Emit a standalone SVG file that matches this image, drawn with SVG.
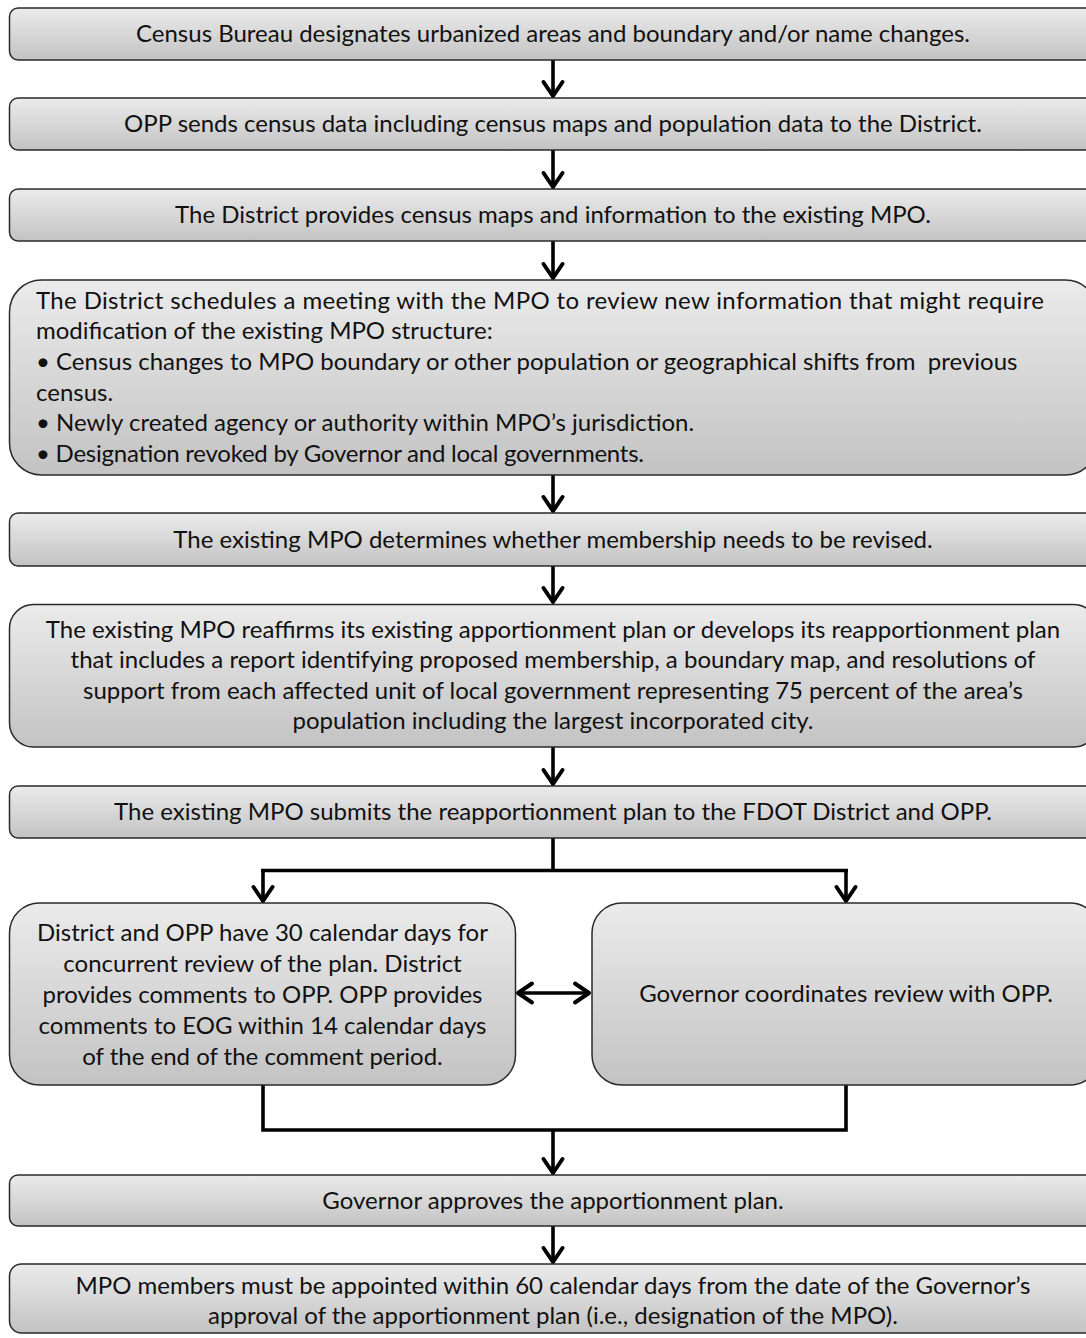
<svg xmlns="http://www.w3.org/2000/svg" width="1086" height="1338" viewBox="0 0 1086 1338">
<style>
  .box { fill: url(#g); stroke: #2a2a2a; stroke-width: 1.5; }
  .t { font-family: "Lato", "Open Sans", sans-serif; font-size: 24px; fill: #111; }
  .c { text-anchor: middle; }
  .conn { fill: none; stroke: #000; stroke-width: 3.6; stroke-linejoin: miter; }
  .arr { marker-end: url(#ah); }
</style>
<defs>
  <linearGradient id="g" x1="0" y1="0" x2="0" y2="1">
    <stop offset="0" stop-color="#ebebeb"/>
    <stop offset="1" stop-color="#c3c3c3"/>
  </linearGradient>
  <marker id="ah" markerUnits="userSpaceOnUse" markerWidth="30" markerHeight="30" viewBox="-20 -15 30 30" refX="0" refY="0" orient="auto-start-reverse">
    <path d="M-15,-9.5 L-1,0 L-15,9.5" fill="none" stroke="#000" stroke-width="4" stroke-linecap="round" stroke-linejoin="round"/>
  </marker>
</defs>
<rect width="1086" height="1338" fill="#fff"/>

<g id="connectors">
  <line class="conn arr" x1="553" y1="60" x2="553" y2="97"/>
  <line class="conn arr" x1="553" y1="150" x2="553" y2="188"/>
  <line class="conn arr" x1="553" y1="241" x2="553" y2="279"/>
  <line class="conn arr" x1="553" y1="475" x2="553" y2="512"/>
  <line class="conn arr" x1="553" y1="566" x2="553" y2="603"/>
  <line class="conn arr" x1="553" y1="747" x2="553" y2="785"/>
  <path class="conn" d="M553,838 V870.5 M261,870.5 H848"/>
  <line class="conn arr" x1="263" y1="870.5" x2="263" y2="902"/>
  <line class="conn arr" x1="846" y1="870.5" x2="846" y2="902"/>
  <line class="conn" x1="517" y1="993" x2="590" y2="993" marker-start="url(#ah)" marker-end="url(#ah)"/>
  <path class="conn" d="M263,1085 V1130 H846 V1085"/>
  <line class="conn arr" x1="553" y1="1130" x2="553" y2="1174"/>
  <line class="conn arr" x1="553" y1="1226" x2="553" y2="1263"/>
</g>

<g id="n1">
  <rect class="box" x="9.5" y="8" width="1088" height="52" rx="8.7"/>
  <text class="t c" x="553" y="42">Census Bureau designates urbanized areas and boundary and/or name changes.</text>
</g>
<g id="n2">
  <rect class="box" x="9.5" y="98" width="1088" height="52" rx="8.7"/>
  <text class="t c" x="553" y="132">OPP sends census data including census maps and population data to the District.</text>
</g>
<g id="n3">
  <rect class="box" x="9.5" y="189" width="1088" height="52" rx="8.7"/>
  <text class="t c" x="553" y="223">The District provides census maps and information to the existing MPO.</text>
</g>
<g id="n4">
  <rect class="box" x="9.5" y="280" width="1088" height="195" rx="32"/>
  <text class="t" x="36" y="308.5" textLength="1008" lengthAdjust="spacing">The District schedules a meeting with the MPO to review new information that might require</text>
  <text class="t" x="36" y="339.2">modification of the existing MPO structure:</text>
  <text class="t" x="36" y="369.9" xml:space="preserve">• Census changes to MPO boundary or other population or geographical shifts from  previous</text>
  <text class="t" x="36" y="400.6">census.</text>
  <text class="t" x="36" y="431.3">• Newly created agency or authority within MPO’s jurisdiction.</text>
  <text class="t" x="36" y="462" textLength="608" lengthAdjust="spacing">• Designation revoked by Governor and local governments.</text>
</g>
<g id="n5">
  <rect class="box" x="9.5" y="513" width="1088" height="53" rx="8.8"/>
  <text class="t c" x="553" y="547.5">The existing MPO determines whether membership needs to be revised.</text>
</g>
<g id="n6">
  <rect class="box" x="9.5" y="604.5" width="1088" height="142.5" rx="24"/>
  <text class="t c" x="553" y="637.8">The existing MPO reaffirms its existing apportionment plan or develops its reapportionment plan</text>
  <text class="t c" x="553" y="668.3">that includes a report identifying proposed membership, a boundary map, and resolutions of</text>
  <text class="t c" x="553" y="698.8">support from each affected unit of local government representing 75 percent of the area’s</text>
  <text class="t c" x="553" y="729.3">population including the largest incorporated city.</text>
</g>
<g id="n7">
  <rect class="box" x="9.5" y="786" width="1088" height="52" rx="8.7"/>
  <text class="t c" x="553" y="820">The existing MPO submits the reapportionment plan to the FDOT District and OPP.</text>
</g>
<g id="n8">
  <rect class="box" x="9.5" y="903" width="506" height="182" rx="30"/>
  <text class="t c" x="262.5" y="940.5">District and OPP have 30 calendar days for</text>
  <text class="t c" x="262.5" y="971.5">concurrent review of the plan. District</text>
  <text class="t c" x="262.5" y="1002.5">provides comments to OPP. OPP provides</text>
  <text class="t c" x="262.5" y="1033.5">comments to EOG within 14 calendar days</text>
  <text class="t c" x="262.5" y="1064.5">of the end of the comment period.</text>
</g>
<g id="n9">
  <rect class="box" x="592" y="903" width="508" height="182" rx="30"/>
  <text class="t c" x="846" y="1002">Governor coordinates review with OPP.</text>
</g>
<g id="n10">
  <rect class="box" x="9.5" y="1175" width="1088" height="51" rx="8.5"/>
  <text class="t c" x="553" y="1208.5">Governor approves the apportionment plan.</text>
</g>
<g id="n11">
  <rect class="box" x="9.5" y="1264" width="1088" height="69" rx="12"/>
  <text class="t c" x="553" y="1294">MPO members must be appointed within 60 calendar days from the date of the Governor’s</text>
  <text class="t c" x="553" y="1324">approval of the apportionment plan (i.e., designation of the MPO).</text>
</g>
</svg>
